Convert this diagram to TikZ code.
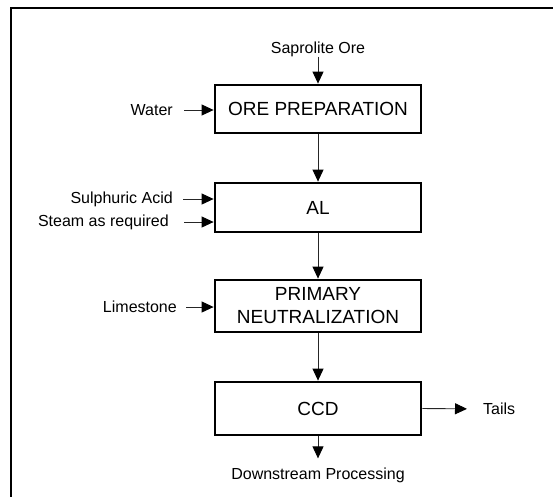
\documentclass[tikz,border=0pt]{standalone}
\usepackage{fontspec}
\setmainfont{Liberation Sans}
\usetikzlibrary{arrows.meta}
\begin{document}
\begin{tikzpicture}[x=1pt,y=-1pt,
  procbox/.style={draw, line width=2.8pt, minimum width=206pt, inner sep=0pt,
    font=\fontsize{19}{23}\selectfont, align=center},
  lbl/.style={inner sep=0pt, font=\fontsize{16}{19}\selectfont},
  arr/.style={line width=0.9pt, draw=black!85, -{Triangle[length=12pt,width=11pt,color=black,fill=black]}}]
\useasboundingbox (0,0) rectangle (553,496);
\clip (0,0) rectangle (553,496);
\draw[line width=2.7pt] (11,600) -- (11,8) -- (600,8);
% process boxes
\node[procbox, minimum height=48pt] (ore) at (318,109) {ORE PREPARATION};
\node[procbox, minimum height=49pt] (al) at (318,207.5) {AL};
\node[procbox, minimum height=52pt] (pn) at (318,306) {PRIMARY\\NEUTRALIZATION};
\node[procbox, minimum height=53pt] (ccd) at (318,408.5) {CCD};
% labels
\node[lbl] (sap) at (318,49) {Saprolite Ore};
\node[lbl, anchor=east] (water) at (173,110) {Water};
\node[lbl, anchor=east] (acid) at (173,199) {Sulphuric Acid};
\node[lbl, anchor=east] (steam) at (169,222) {Steam as required};
\node[lbl, anchor=east] (lime) at (177,307) {Limestone};
\node[lbl, anchor=west] (tails) at (483,409) {Tails};
\node[lbl] (ds) at (318,475) {Downstream Processing};
% connectors
\draw[arr] (sap.south) -- (ore.north);
\draw[arr, shorten <=11pt] (water.east) -- (water.east -| ore.west);
\draw[arr] (ore.south) -- (al.north);
\draw[arr, shorten <=10pt] (acid.east) -- (acid.east -| al.west);
\draw[arr, shorten <=15pt] (steam.east) -- (steam.east -| al.west);
\draw[arr] (al.south) -- (pn.north);
\draw[arr, shorten <=9pt] (lime.east) -- (lime.east -| pn.west);
\draw[arr] (pn.south) -- (ccd.north);
\draw[arr, shorten >=16pt] (ccd.east) -- (tails.west);
\draw[arr, shorten >=9pt] (ccd.south) -- (ds.north);
\end{tikzpicture}
\end{document}
